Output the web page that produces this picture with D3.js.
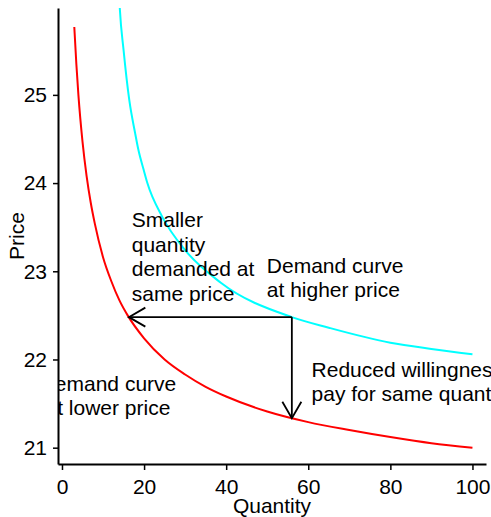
<!DOCTYPE html>
<html><head><meta charset="utf-8">
<script src="https://cdn.jsdelivr.net/npm/d3@7"></script>
<style>body{margin:0;background:#fff} text{font-family:"Liberation Sans",Arial,Helvetica,sans-serif}</style>
</head><body><svg id="c" width="491" height="517"></svg>
<script>
// ---- data ----
const redQ = [3, 3.5, 4, 5, 6, 7, 8, 10, 12, 14, 16, 20, 25, 30, 35, 40, 50, 60, 70, 80, 90, 100];
const redP = [25.77, 25.35, 25.0, 24.47, 24.08, 23.78, 23.54, 23.16, 22.89, 22.67, 22.5, 22.24, 22.0, 21.83, 21.69, 21.58, 21.41, 21.29, 21.2, 21.12, 21.05, 21.0];
const cyanQ = [13.9, 14.1, 15.0, 16.4, 17.8, 18.6, 19.9, 20.8, 24.4, 30.0, 38.7, 56.0, 65.0, 80.0, 90.0, 100.0];
const cyanP = [26.15, 25.97, 25.51, 24.94, 24.57, 24.38, 24.15, 24.0, 23.62, 23.24, 22.87, 22.48, 22.36, 22.19, 22.12, 22.06];
const xTicks = [0, 20, 40, 60, 80, 100];
const yTicks = [21, 22, 23, 24, 25];
const xTitle = "Quantity";
const yTitle = "Price";
const labelSmaller = ["Smaller", "quantity", "demanded at", "same price"];
const labelHigher = ["Demand curve", "at higher price"];
const labelReduced = ["Reduced willingness to", "pay for same quantity"];
const labelLower = ["Demand curve", "at lower price"];
const arrowFromQ = [56, 56];
const arrowFromP = [22.48, 22.48];
const arrowToQ = [16.3, 56];
const arrowToP = [22.48, 21.335];

// ---- layout ----
const W = 491, H = 517;
const FONT = 21;
const svg = d3.select("#c");
svg.append("rect").attr("width", W).attr("height", H).attr("fill", "#fff");

const x = d3.scaleLinear().domain([-0.97, 103.3]).range([58, 486]);
const y = d3.scaleLinear().domain([20.815, 25.985]).range([464, 8]);

svg.append("defs").append("clipPath").attr("id", "panel")
  .append("rect").attr("x", 58).attr("y", 8).attr("width", W - 58).attr("height", 456);

const panel = svg.append("g").attr("clip-path", "url(#panel)");

const line = d3.line().x(d => x(d[0])).y(d => y(d[1])).curve(d3.curveMonotoneX);
panel.append("path").datum(redQ.map((q, i) => [q, redP[i]]))
  .attr("d", line).attr("fill", "none").attr("stroke", "#ff0000").attr("stroke-width", 2);
panel.append("path").datum(cyanQ.map((q, i) => [q, cyanP[i]]))
  .attr("d", line).attr("fill", "none").attr("stroke", "#00ffff").attr("stroke-width", 2);

// arrows
const HEAD = 19, ANG = Math.PI / 6;
arrowFromQ.forEach((q, i) => {
  const x1 = x(q), y1 = y(arrowFromP[i]), x2 = x(arrowToQ[i]), y2 = y(arrowToP[i]);
  panel.append("line").attr("x1", x1).attr("y1", y1).attr("x2", x2).attr("y2", y2)
    .attr("stroke", "#000").attr("stroke-width", 1.8);
  const th = Math.atan2(y2 - y1, x2 - x1);
  const p = [
    [x2 - HEAD * Math.cos(th - ANG), y2 - HEAD * Math.sin(th - ANG)],
    [x2, y2],
    [x2 - HEAD * Math.cos(th + ANG), y2 - HEAD * Math.sin(th + ANG)]
  ];
  panel.append("path").attr("d", d3.line()(p)).attr("fill", "none")
    .attr("stroke", "#000").attr("stroke-width", 1.8);
});

// annotations
function addLabel(lines, q, p, anchor, step) {
  const t = panel.append("text").attr("font-size", FONT).attr("fill", "#000")
    .attr("text-anchor", anchor);
  lines.forEach((s, i) => {
    t.append("tspan").attr("x", x(q)).attr("y", y(p) + i * step).text(s);
  });
}
addLabel(labelSmaller, 17, 23.5, "start", 24.5);
addLabel(labelHigher, 49.9, 22.98, "start", 24.2);
addLabel(labelReduced, 60.8, 21.805, "start", 24);
addLabel(labelLower, 11.2, 21.648, "middle", 24.2);

// axes
const gx = svg.append("g").attr("transform", "translate(0,464)")
  .call(d3.axisBottom(x).tickValues(xTicks).tickFormat(d3.format("d")).tickSize(6).tickSizeOuter(0).tickPadding(9));
const gy = svg.append("g").attr("transform", "translate(58,0)")
  .call(d3.axisLeft(y).tickValues(yTicks).tickFormat(d3.format("d")).tickSize(5).tickSizeOuter(0).tickPadding(6));
[gx, gy].forEach(g => {
  g.attr("font-size", null).attr("font-family", null);
  g.select(".domain").attr("stroke", "#000").attr("stroke-width", 2);
  g.selectAll(".tick line").attr("stroke", "#000").attr("stroke-width", 1.5);
  g.selectAll(".tick text").attr("fill", "#000").attr("font-size", FONT);
});

svg.append("text").attr("x", 272).attr("y", 513).attr("text-anchor", "middle")
  .attr("font-size", FONT).text(xTitle);
svg.append("text").attr("transform", "translate(24,236) rotate(-90)").attr("text-anchor", "middle")
  .attr("font-size", FONT).text(yTitle);
</script></body></html>
